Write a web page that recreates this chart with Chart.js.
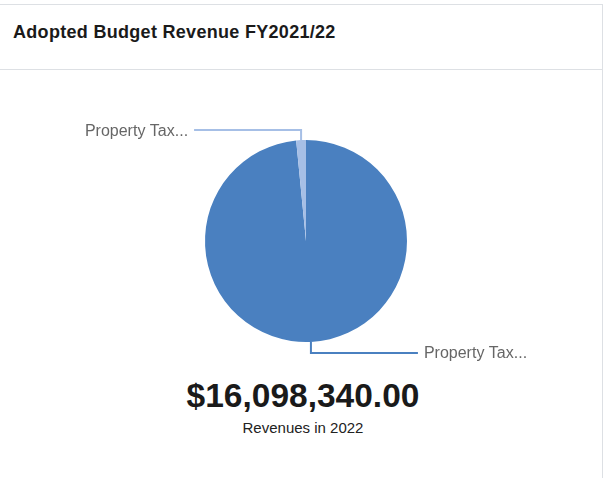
<!DOCTYPE html>
<html>
<head>
<meta charset="utf-8">
<script src="https://cdn.jsdelivr.net/npm/chart.js@4"></script>
<style>
  body { margin: 0; background: #fff; font-family: "Liberation Sans", Arial, sans-serif; }
  .card { position: absolute; left: -1px; top: 4px; width: 602px; height: 480px; border: 1px solid #dde0e4; background: #fff; }
  .card-header { height: 64px; border-bottom: 1px solid #dde0e4; }
  .card-header h3 { margin: 0; padding: 17px 0 0 13px; font-size: 18px; letter-spacing: 0.3px; font-weight: bold; color: #1a1a1a; }
  .chart-box { position: absolute; left: 1px; top: 65px; width: 606px; height: 300px; }
  .total { position: absolute; left: 0; width: 606px; top: 372px; text-align: center; font-weight: bold; font-size: 33.5px; color: #1a1a1a; }
  .caption { position: absolute; left: 0; width: 606px; top: 414px; text-align: center; font-size: 15px; color: #222; }
</style>
</head>
<body>
<div class="card">
  <div class="card-header"><h3>Adopted Budget Revenue FY2021/22</h3></div>
  <div class="chart-box"><canvas id="revenueChart"></canvas></div>
  <div class="total" id="total"></div>
  <div class="caption">Revenues in 2022</div>
</div>
<script>
const categories = ['Property Taxes', 'Property Tax In-Lieu'];
const revenues = [15848340, 250000];
const sliceColors = ['#4a80c0', '#a6bfe6'];

// callout labels are cut short like the dashboard does
function shortLabel(text) {
    return text.length > 12 ? text.slice(0, 12) + '...' : text;
}

const calloutPlugin = {
    id: 'callouts',
    afterDatasetsDraw(chart) {
        const ctx = chart.ctx;
        const meta = chart.getDatasetMeta(0);
        meta.data.forEach((arc, i) => {
            const p = arc.getProps(['x', 'y', 'startAngle', 'endAngle', 'outerRadius'], true);
            const mid = (p.startAngle + p.endAngle) / 2;
            const sx = p.x + Math.cos(mid) * p.outerRadius;
            const sy = p.y + Math.sin(mid) * p.outerRadius;
            const vy = sy + (Math.sin(mid) < 0 ? -10 : 11);
            const dir = Math.cos(mid) < 0 ? -1 : 1;
            const ex = sx + dir * 107;
            ctx.save();
            ctx.strokeStyle = sliceColors[i];
            ctx.lineWidth = 2;
            ctx.beginPath();
            ctx.moveTo(sx, sy);
            ctx.lineTo(sx, vy);
            ctx.lineTo(ex, vy);
            ctx.stroke();
            ctx.fillStyle = '#666';
            ctx.font = '16px "Liberation Sans", Arial, sans-serif';
            ctx.textBaseline = 'middle';
            ctx.textAlign = dir < 0 ? 'right' : 'left';
            ctx.fillText(shortLabel(categories[i]), ex + dir * 6, vy + 1);
            ctx.restore();
        });
    }
};

const total = revenues.reduce((a, b) => a + b, 0);
document.getElementById('total').textContent =
    '$' + total.toLocaleString('en-US', { minimumFractionDigits: 2, maximumFractionDigits: 2 });

const ctx = document.getElementById('revenueChart').getContext('2d');
new Chart(ctx, {
    type: 'pie',
    data: {
        labels: categories,
        datasets: [{
            data: revenues,
            backgroundColor: sliceColors,
            borderWidth: 0
        }]
    },
    options: {
        responsive: true,
        maintainAspectRatio: false,
        animation: false,
        layout: { padding: { top: 70, bottom: 28, left: 4, right: 0 } },
        plugins: {
            legend: { display: false },
            tooltip: { enabled: false }
        }
    },
    plugins: [calloutPlugin]
});
</script>
</body>
</html>
